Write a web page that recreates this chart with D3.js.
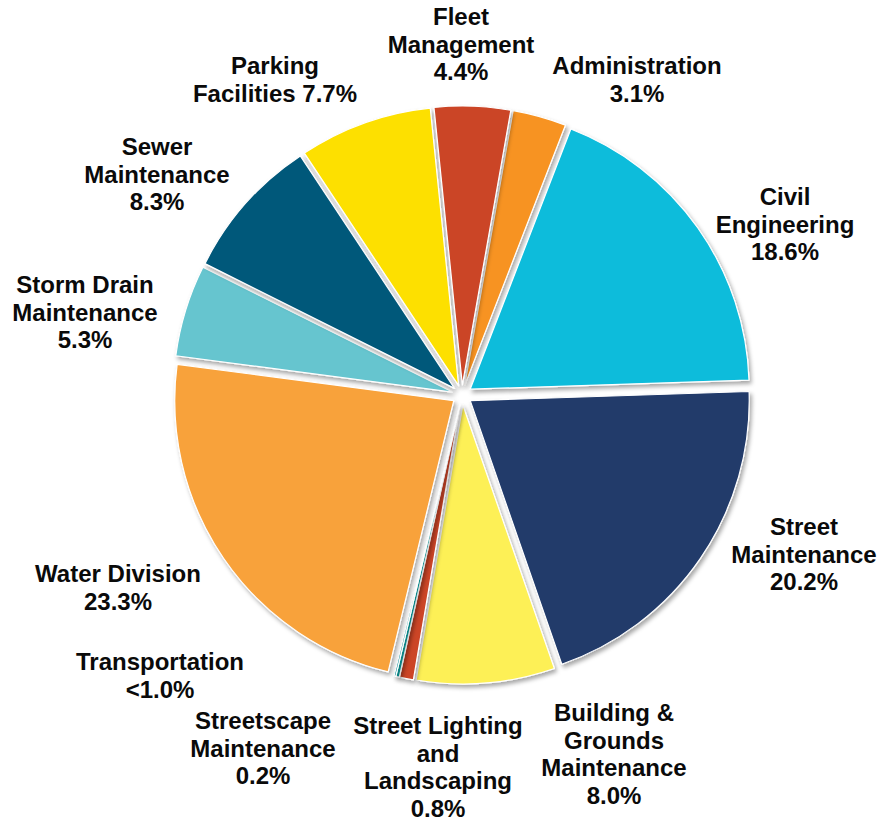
<!DOCTYPE html>
<html>
<head>
<meta charset="utf-8">
<script src="https://cdn.jsdelivr.net/npm/d3@7"></script>
<style>
  html, body { margin: 0; padding: 0; background: #fff; }
  svg { display: block; }
  text { font-family: "Liberation Sans", Arial, sans-serif; font-weight: bold; fill: #0a0a0a; }
</style>
</head>
<body>
<div id="chart"></div>
<script>
// Department budget shares, listed clockwise from the top
const departments = [
  "Administration", "Civil Engineering", "Street Maintenance",
  "Building & Grounds Maintenance", "Street Lighting and Landscaping",
  "Streetscape Maintenance", "Transportation", "Water Division",
  "Storm Drain Maintenance", "Sewer Maintenance", "Parking Facilities",
  "Fleet Management"
];
const shares = [3.1, 18.6, 20.2, 8.0, 0.8, 0.2, 0.1, 23.3, 5.3, 8.3, 7.7, 4.4];
// Text shown for each share (Transportation is reported as a bound)
const shareText = [null, null, null, null, null, null, "<1.0%", null, null, null, null, null];
const colors = [
  "#f79320", "#0ebcdb", "#203a6b", "#fdf056", "#cc4527", "#0b9a9b",
  "#0f8f96", "#f8a23b", "#66c5cf", "#05587a", "#fde000", "#cb4528"
];
// Line breaks for each department label
const labelLines = [
  ["Administration"], ["Civil", "Engineering"], ["Street", "Maintenance"],
  ["Building &", "Grounds", "Maintenance"], ["Street Lighting", "and", "Landscaping"],
  ["Streetscape", "Maintenance"], ["Transportation"], ["Water Division"],
  ["Storm Drain", "Maintenance"], ["Sewer", "Maintenance"], ["Parking", "Facilities"],
  ["Fleet", "Management"]
];
// Whether the percentage sits on the last name line instead of its own line
const pctInline = [false, false, false, false, false, false, false, false, false, false, true, false];

// Layout
const W = 879, H = 820;
const cx = 462, cy = 395, R = 279, explode = 10;
const startDeg = 10;
const lineH = 27.5;
// Label anchor: horizontal centre and first baseline
const labelAnchor = [
  [637, 74], [785, 205], [804, 535], [614, 721], [438, 734], [263, 729],
  [160, 670], [118, 582], [85, 293], [157, 155], [275, 74], [461, 25]
];

const svg = d3.select("#chart").append("svg").attr("width", W).attr("height", H);

const defs = svg.append("defs");
const f = defs.append("filter").attr("id", "shadow")
  .attr("x", "-20%").attr("y", "-20%").attr("width", "140%").attr("height", "140%");
f.append("feDropShadow").attr("dx", 2).attr("dy", 3).attr("stdDeviation", 2.2)
  .attr("flood-color", "#000").attr("flood-opacity", 0.35);

const start = startDeg * Math.PI / 180;
const pie = d3.pie().sort(null).value(d => d.v).startAngle(start).endAngle(start + 2 * Math.PI);
const data = departments.map((name, i) => ({ name, v: shares[i], i }));
const arcs = pie(data);
const arc = d3.arc().innerRadius(0).outerRadius(R);

const g = svg.append("g").attr("transform", `translate(${cx},${cy})`);
g.selectAll("path.slice").data(arcs).join("path")
  .attr("class", "slice")
  .attr("d", arc)
  .attr("fill", d => colors[d.data.i])
  .attr("stroke", "#fff")
  .attr("stroke-width", 1.2)
  .attr("stroke-linejoin", "round")
  .attr("filter", "url(#shadow)")
  .attr("transform", d => {
    const m = (d.startAngle + d.endAngle) / 2;
    return `translate(${explode * Math.sin(m)},${-explode * Math.cos(m)})`;
  });

const fmt = (v, i) => shareText[i] || (d3.format(".1f")(v) + "%");

const labels = svg.append("g").attr("font-size", 24);
data.forEach((d, i) => {
  const lines = labelLines[i].slice();
  const pct = fmt(d.v, i);
  if (pctInline[i]) lines[lines.length - 1] += " " + pct; else lines.push(pct);
  const [x, y] = labelAnchor[i];
  const t = labels.append("text").attr("text-anchor", "middle");
  lines.forEach((ln, k) => {
    t.append("tspan").attr("x", x).attr("y", y + k * lineH).text(ln);
  });
});
</script>
</body>
</html>
